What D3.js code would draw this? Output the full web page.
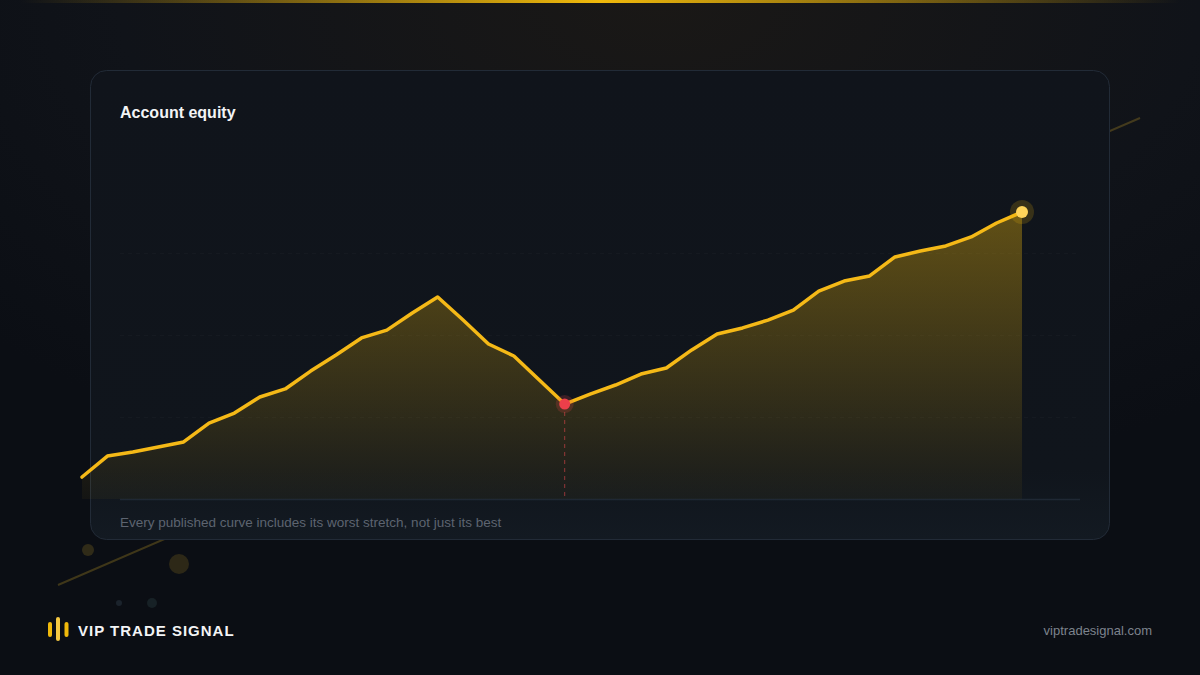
<!DOCTYPE html>
<html>
<head>
<meta charset="utf-8">
<script src="https://cdn.jsdelivr.net/npm/d3@7/dist/d3.min.js"></script>
<style>
  html, body { margin: 0; padding: 0; background: #0d1016; }
  svg { display: block; }
</style>
</head>
<body>
<svg id="chart" width="1200" height="675"></svg>
<script>
// ---- data ----
const title = "Account equity";
const caption = "Every published curve includes its worst stretch, not just its best";
const brand = "VIP TRADE SIGNAL";
const site = "viptradesignal.com";
const equity = [11340, 12620, 12870, 13170, 13480, 14630, 15240, 16220, 16710, 17800,
                18780, 19820, 20300, 21340, 22320, 20910, 19450, 18720, 17260, 15790,
                16400, 16950, 17620, 17990, 19090, 20060, 20430, 20910, 21520, 22680,
                23290, 23600, 24760, 25120, 25430, 25980, 26830, 27500];
const gridValues = [15000, 20000, 25000];
const yDomain = [10000, 25000];

const FONT = "'Liberation Sans', Arial, Helvetica, sans-serif";
const svg = d3.select("#chart");
const W = 1200, H = 675;
const defs = svg.append("defs");

// background
const bg = defs.append("radialGradient").attr("id", "bgGlow")
  .attr("cx", "0.55").attr("cy", "0").attr("r", "0.75");
bg.append("stop").attr("offset", "0").attr("stop-color", "#1a1816");
bg.append("stop").attr("offset", "0.6").attr("stop-color", "#101319");
bg.append("stop").attr("offset", "1").attr("stop-color", "#0b0e14");
svg.append("rect").attr("width", W).attr("height", H).attr("fill", "url(#bgGlow)");

// top glow bar
const tg = defs.append("linearGradient").attr("id", "topBar").attr("x1", 0).attr("x2", 1);
tg.append("stop").attr("offset", "0").attr("stop-color", "#f0b90b").attr("stop-opacity", 0);
tg.append("stop").attr("offset", "0.5").attr("stop-color", "#f0b90b").attr("stop-opacity", 1);
tg.append("stop").attr("offset", "1").attr("stop-color", "#f0b90b").attr("stop-opacity", 0);
svg.append("rect").attr("x", 20).attr("y", 0).attr("width", 1160).attr("height", 3)
  .attr("fill", "url(#topBar)");

// decorative diagonal & dots behind card
svg.append("line").attr("x1", 58).attr("y1", 585).attr("x2", 1140).attr("y2", 118)
  .attr("stroke", "#c9a227").attr("stroke-opacity", 0.28).attr("stroke-width", 2);
svg.append("circle").attr("cx", 88).attr("cy", 550).attr("r", 6).attr("fill", "#c9a227").attr("opacity", 0.2);
svg.append("circle").attr("cx", 179).attr("cy", 564).attr("r", 10).attr("fill", "#c9a227").attr("opacity", 0.18);
svg.append("circle").attr("cx", 119).attr("cy", 603).attr("r", 3).attr("fill", "#3a4a5a").attr("opacity", 0.35);
svg.append("circle").attr("cx", 152).attr("cy", 603).attr("r", 5).attr("fill", "#3a5a5a").attr("opacity", 0.25);

// card
const cg = defs.append("linearGradient").attr("id", "cardFill").attr("x1", 0).attr("x2", 0).attr("y1", 0).attr("y2", 1);
cg.append("stop").attr("offset", "0").attr("stop-color", "#10141b");
cg.append("stop").attr("offset", "0.85").attr("stop-color", "#10151c");
cg.append("stop").attr("offset", "1").attr("stop-color", "#131a22");
svg.append("rect").attr("x", 90.5).attr("y", 70.5).attr("width", 1019).attr("height", 469)
  .attr("rx", 16).attr("fill", "url(#cardFill)")
  .attr("stroke", "#222b37").attr("stroke-width", 1);

svg.append("text").attr("x", 120).attr("y", 118).text(title)
  .attr("fill", "#f3f4f6").attr("font-family", FONT)
  .attr("font-size", 16).attr("font-weight", 700);

// scales
const x = d3.scaleLinear().domain([0, equity.length - 1]).range([82, 1022]);
const y = d3.scaleLinear().domain(yDomain).range([499, 253]);
const baseY = y(yDomain[0]);

// grid
const grid = svg.append("g").attr("transform", "translate(120,0)")
  .call(d3.axisLeft(y).tickValues(gridValues).tickSize(-960).tickFormat(""));
grid.select(".domain").remove();
grid.selectAll(".tick line").attr("stroke", "#ffffff").attr("stroke-opacity", 0.022)
  .attr("stroke-dasharray", "4,4");

// baseline
svg.append("line").attr("x1", 120).attr("x2", 1080).attr("y1", baseY + 0.5).attr("y2", baseY + 0.5)
  .attr("stroke", "#1f2834").attr("stroke-width", 1.5);

// area
const ag = defs.append("linearGradient").attr("id", "areaFill")
  .attr("gradientUnits", "userSpaceOnUse").attr("x1", 0).attr("x2", 0)
  .attr("y1", y(d3.max(equity))).attr("y2", baseY);
ag.append("stop").attr("offset", "0").attr("stop-color", "#f0b90b").attr("stop-opacity", 0.36);
ag.append("stop").attr("offset", "1").attr("stop-color", "#f0b90b").attr("stop-opacity", 0.04);

const area = d3.area().x((d, i) => x(i)).y0(baseY).y1(d => y(d));
const line = d3.line().x((d, i) => x(i)).y(d => y(d));
svg.append("path").datum(equity).attr("d", area).attr("fill", "url(#areaFill)");

// trough marker (deepest drawdown)
let peak = equity[0], worst = 0, troughI = 0;
equity.forEach((v, i) => {
  if (v > peak) peak = v;
  const dd = (v - peak) / peak;
  if (dd < worst) { worst = dd; troughI = i; }
});
svg.append("line").attr("x1", x(troughI)).attr("x2", x(troughI))
  .attr("y1", y(equity[troughI])).attr("y2", baseY)
  .attr("stroke", "#e5484d").attr("stroke-opacity", 0.6).attr("stroke-width", 1)
  .attr("stroke-dasharray", "4,4");

svg.append("path").datum(equity).attr("d", line).attr("fill", "none")
  .attr("stroke", "#f5b917").attr("stroke-width", 3.5)
  .attr("stroke-linejoin", "round").attr("stroke-linecap", "round");

svg.append("circle").attr("cx", x(troughI)).attr("cy", y(equity[troughI])).attr("r", 9)
  .attr("fill", "#e5484d").attr("opacity", 0.2);
svg.append("circle").attr("cx", x(troughI)).attr("cy", y(equity[troughI])).attr("r", 5.5)
  .attr("fill", "#ec3f4a");

// end marker
const lastI = equity.length - 1;
svg.append("circle").attr("cx", x(lastI)).attr("cy", y(equity[lastI])).attr("r", 12)
  .attr("fill", "#f0b90b").attr("opacity", 0.18);
svg.append("circle").attr("cx", x(lastI)).attr("cy", y(equity[lastI])).attr("r", 6)
  .attr("fill", "#ffd45a");

// caption
svg.append("text").attr("x", 120).attr("y", 527).text(caption)
  .attr("fill", "#5d6470").attr("font-family", FONT)
  .attr("font-size", 13.5);

// footer brand
const logo = svg.append("g");
const bars = [{x: 48, y: 622, h: 15, c: "#f0b90b"}, {x: 56, y: 617, h: 24, c: "#f5c842"}, {x: 64.5, y: 622, h: 15, c: "#f0b90b"}];
logo.selectAll("rect").data(bars).join("rect")
  .attr("x", d => d.x).attr("y", d => d.y).attr("width", 4).attr("height", d => d.h)
  .attr("rx", 2).attr("fill", d => d.c);
svg.append("text").attr("x", 78).attr("y", 636).text(brand)
  .attr("fill", "#f3f4f6").attr("font-family", FONT)
  .attr("font-size", 15).attr("font-weight", 700).attr("letter-spacing", 1);

svg.append("text").attr("x", 1152).attr("y", 635).attr("text-anchor", "end").text(site)
  .attr("fill", "#7d838d").attr("font-family", FONT)
  .attr("font-size", 13);
</script>
</body>
</html>
